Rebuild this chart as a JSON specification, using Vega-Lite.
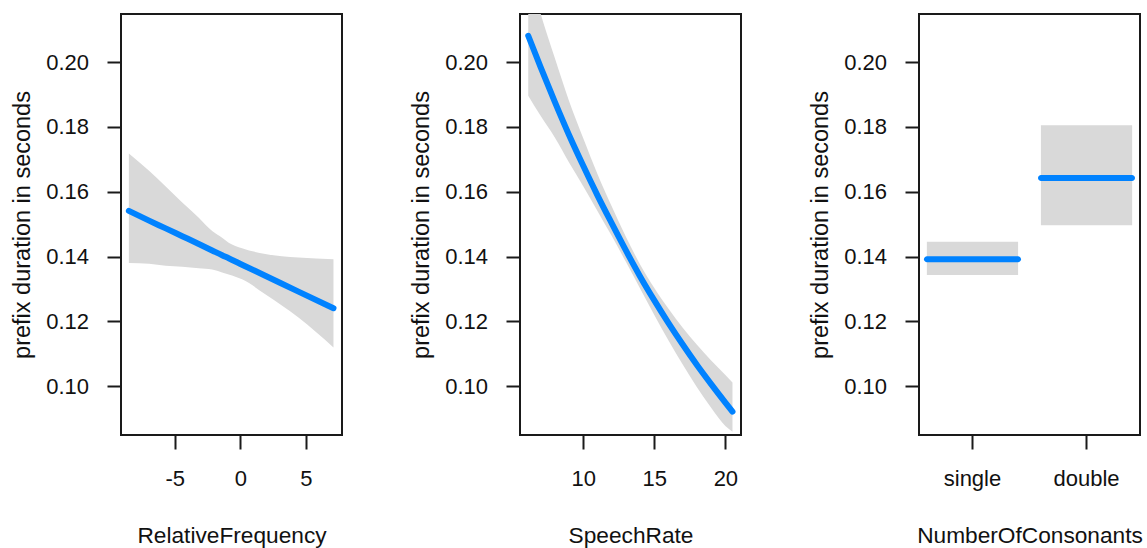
{
  "$schema": "https://vega.github.io/schema/vega-lite/v6.json",
  "background": "white",
  "padding": {"left": 9, "top": 13, "right": 0, "bottom": 0},
  "spacing": 178,
  "bounds": "flush",
  "config": {
    "view": {"stroke": "#1a1a1a", "strokeWidth": 2},
    "font": "Liberation Sans",
    "axis": {"domain": false, "grid": false, "ticks": true, "tickColor": "#1a1a1a", "tickWidth": 2, "tickSize": 14,
      "labelFont": "Liberation Sans", "labelFontSize": 22, "labelColor": "#111",
      "titleFont": "Liberation Sans", "titleFontWeight": "normal", "titleColor": "#111"},
    "axisX": {"labelPadding": 19, "titlePadding": 35, "labelAngle": 0, "titleFontSize": 22.7},
    "axisY": {"labelPadding": 18.5, "titlePadding": 11, "titleFontSize": 23.5}
  },
  "datasets": {
    "freq": [
      {"RelativeFrequency": -8.5, "fit": 0.1541, "lower": 0.1380, "upper": 0.1718},
      {"RelativeFrequency": -6.96, "fit": 0.1511, "lower": 0.1378, "upper": 0.1665},
      {"RelativeFrequency": -5.69, "fit": 0.1487, "lower": 0.1372, "upper": 0.1616},
      {"RelativeFrequency": -4.43, "fit": 0.1463, "lower": 0.1369, "upper": 0.1567},
      {"RelativeFrequency": -3.17, "fit": 0.1439, "lower": 0.1364, "upper": 0.1520},
      {"RelativeFrequency": -2.15, "fit": 0.1419, "lower": 0.1360, "upper": 0.1479},
      {"RelativeFrequency": -1.39, "fit": 0.1404, "lower": 0.1351, "upper": 0.1458},
      {"RelativeFrequency": -0.89, "fit": 0.1395, "lower": 0.1345, "upper": 0.1443},
      {"RelativeFrequency": 0.13, "fit": 0.1375, "lower": 0.1330, "upper": 0.1426},
      {"RelativeFrequency": 1.9, "fit": 0.1341, "lower": 0.1284, "upper": 0.1408},
      {"RelativeFrequency": 4.43, "fit": 0.1292, "lower": 0.1212, "upper": 0.1397},
      {"RelativeFrequency": 7.1, "fit": 0.1241, "lower": 0.1120, "upper": 0.1392}
    ],
    "speech": [
      {"SpeechRate": 6.13, "fit": 0.2081, "lower": 0.1896, "upper": 0.2281},
      {"SpeechRate": 7, "fit": 0.1984, "lower": 0.1834, "upper": 0.2149},
      {"SpeechRate": 8, "fit": 0.1877, "lower": 0.1767, "upper": 0.2012},
      {"SpeechRate": 9, "fit": 0.1775, "lower": 0.1690, "upper": 0.1880},
      {"SpeechRate": 10, "fit": 0.1680, "lower": 0.1617, "upper": 0.1765},
      {"SpeechRate": 11, "fit": 0.1589, "lower": 0.1541, "upper": 0.1655},
      {"SpeechRate": 12, "fit": 0.1503, "lower": 0.1464, "upper": 0.1555},
      {"SpeechRate": 13, "fit": 0.1419, "lower": 0.1384, "upper": 0.1461},
      {"SpeechRate": 14, "fit": 0.1339, "lower": 0.1302, "upper": 0.1376},
      {"SpeechRate": 15, "fit": 0.1265, "lower": 0.1220, "upper": 0.1303},
      {"SpeechRate": 16, "fit": 0.1195, "lower": 0.1141, "upper": 0.1239},
      {"SpeechRate": 17, "fit": 0.1129, "lower": 0.1067, "upper": 0.1181},
      {"SpeechRate": 18, "fit": 0.1066, "lower": 0.0997, "upper": 0.1128},
      {"SpeechRate": 19, "fit": 0.1007, "lower": 0.0934, "upper": 0.1080},
      {"SpeechRate": 20, "fit": 0.0950, "lower": 0.0878, "upper": 0.1035},
      {"SpeechRate": 20.5, "fit": 0.0922, "lower": 0.0860, "upper": 0.1012}
    ],
    "cons": [
      {"NumberOfConsonants": "single", "fit": 0.1392, "lower": 0.1343, "upper": 0.1446},
      {"NumberOfConsonants": "double", "fit": 0.1642, "lower": 0.1497, "upper": 0.1805}
    ]
  },
  "hconcat": [
    {
      "width": 221, "height": 421,
      "data": {"name": "freq"},
      "layer": [
        {"mark": {"type": "area", "color": "#d9d9d9", "opacity": 1, "clip": true, "interpolate": "monotone"},
         "encoding": {
           "x": {"field": "RelativeFrequency", "type": "quantitative", "scale": {"domain": [-9.1, 7.75], "nice": false, "zero": false}, "axis": {"values": [-5, 0, 5], "labelExpr": "replace(datum.label, '\u2212', '-')", "title": "RelativeFrequency"}},
           "y": {"field": "lower", "type": "quantitative", "scale": {"domain": [0.085, 0.2148], "nice": false, "zero": false}, "axis": {"values": [0.1, 0.12, 0.14, 0.16, 0.18, 0.2], "format": ".2f", "title": "prefix duration in seconds"}},
           "y2": {"field": "upper"}}},
        {"mark": {"type": "line", "color": "#0082ff", "opacity": 1, "strokeWidth": 6, "strokeCap": "round", "clip": true, "interpolate": "monotone"},
         "encoding": {
           "x": {"field": "RelativeFrequency", "type": "quantitative"},
           "y": {"field": "fit", "type": "quantitative"}}}
      ]
    },
    {
      "width": 221, "height": 421,
      "data": {"name": "speech"},
      "layer": [
        {"mark": {"type": "area", "color": "#d9d9d9", "opacity": 1, "clip": true, "interpolate": "monotone"},
         "encoding": {
           "x": {"field": "SpeechRate", "type": "quantitative", "scale": {"domain": [5.55, 21.1], "nice": false, "zero": false}, "axis": {"values": [10, 15, 20], "title": "SpeechRate"}},
           "y": {"field": "lower", "type": "quantitative", "scale": {"domain": [0.085, 0.2148], "nice": false, "zero": false}, "axis": {"values": [0.1, 0.12, 0.14, 0.16, 0.18, 0.2], "format": ".2f", "title": "prefix duration in seconds"}},
           "y2": {"field": "upper"}}},
        {"mark": {"type": "line", "color": "#0082ff", "opacity": 1, "strokeWidth": 6, "strokeCap": "round", "clip": true, "interpolate": "monotone"},
         "encoding": {
           "x": {"field": "SpeechRate", "type": "quantitative"},
           "y": {"field": "fit", "type": "quantitative"}}}
      ]
    },
    {
      "width": 221, "height": 421,
      "data": {"name": "cons"},
      "layer": [
        {"mark": {"type": "rect", "color": "#d9d9d9", "opacity": 1},
         "encoding": {
           "x": {"field": "NumberOfConsonants", "type": "nominal", "sort": null, "scale": {"domain": ["single", "double"], "paddingInner": 0.2, "paddingOuter": 0.069}, "axis": {"labelAngle": 0, "bandPosition": 0.5, "title": "NumberOfConsonants"}},
           "y": {"field": "lower", "type": "quantitative", "scale": {"domain": [0.085, 0.2148], "nice": false, "zero": false}, "axis": {"values": [0.1, 0.12, 0.14, 0.16, 0.18, 0.2], "format": ".2f", "title": "prefix duration in seconds"}},
           "y2": {"field": "upper"}}},
        {"mark": {"type": "tick", "color": "#0082ff", "opacity": 1, "thickness": 6, "size": 97, "cornerRadius": 3, "orient": "horizontal"},
         "encoding": {
           "x": {"field": "NumberOfConsonants", "type": "nominal", "sort": null},
           "y": {"field": "fit", "type": "quantitative"}}}
      ]
    }
  ]
}
